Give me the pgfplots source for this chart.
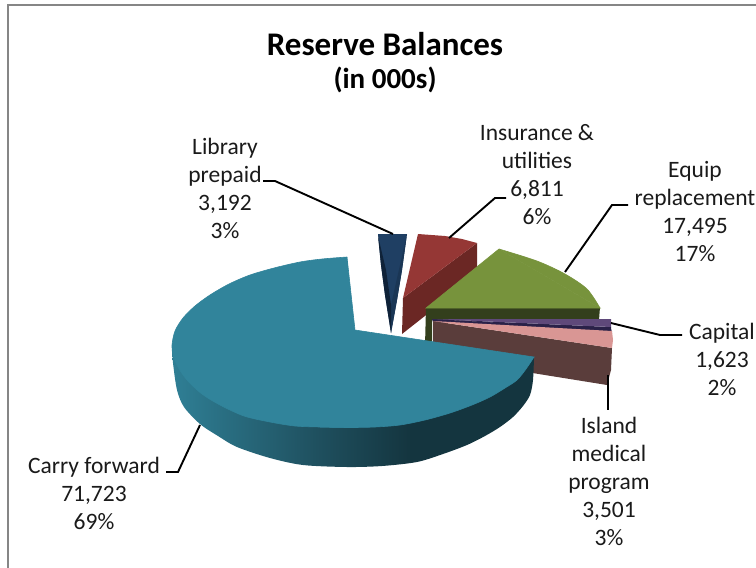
\documentclass[border=0pt]{standalone}
\usepackage{fontspec}
\setmainfont{Carlito}
\usepackage{pgfplots}
\pgfplotsset{compat=1.18}
\definecolor{frameGrey}{HTML}{868686}
\definecolor{tealTop}{HTML}{31849B}
\definecolor{tealA}{HTML}{2F7F95}
\definecolor{tealB}{HTML}{1F505F}
\definecolor{tealC}{HTML}{14353F}
\definecolor{blueTop}{HTML}{1F3F63}
\definecolor{blueRight}{HTML}{1A3655}
\definecolor{blueLeft}{HTML}{0F2238}
\definecolor{redTop}{HTML}{953735}
\definecolor{redSide}{HTML}{6B2724}
\definecolor{greenTop}{HTML}{77933C}
\definecolor{greenSide}{HTML}{333F1C}
\definecolor{purpleTop}{HTML}{5F497A}
\definecolor{purpleSide}{HTML}{2A2148}
\definecolor{pinkTop}{HTML}{D99694}
\definecolor{brownSide}{HTML}{5A3D3B}
\definecolor{textGrey}{HTML}{1A1A1A}
\pgfdeclarehorizontalshading{carrySide}{100bp}{
  color(0bp)=(tealA); color(25bp)=(tealA); color(45bp)=(tealB);
  color(58bp)=(tealC); color(75bp)=(tealC); color(100bp)=(tealC)}
\tikzset{
  lead/.style={black, line width=1.9pt, line join=miter},
  lbl/.style={align=center, text=textGrey, font=\fontsize{23.5}{28}\selectfont},
  ttl/.style={text=black, font=\bfseries\fontsize{33}{36}\selectfont},
  face/.style={fill=#1, draw=#1, line width=0.6pt},
}
\begin{document}
\begin{tikzpicture}
\useasboundingbox (0,0) rectangle (756pt,568pt);
\begin{axis}[
  at={(0,0)}, anchor=south west,
  scale only axis, width=756pt, height=568pt,
  xmin=0, xmax=756, ymin=0, ymax=568, y dir=reverse,
  hide axis, clip=false,
  every axis plot/.append style={mark=none},
]
% chart frame
\addplot[frameGrey, line width=2pt] coordinates {(8,568)(8,5)(756,5)};

% Library prepaid wedge
\addplot[fill=blueTop, draw=none] coordinates {(378,234)(392,234)(407,234)(402,270)(397,300)(391,333)(385,295)(381,265)} -- cycle;
\addplot[fill=blueRight, draw=none] coordinates {(407,234)(391,305)(391,333)(397,300)(402,270)} -- cycle;
\addplot[fill=blueLeft, draw=none] coordinates {(378,236)(381,265)(385,295)(391,333)(391,305)(386,270)} -- cycle;

% Insurance and utilities wedge
\addplot[fill=redSide, draw=none] coordinates {(477,243)(403,298)(402,334)(477,275)} -- cycle;
\addplot[fill=redTop, draw=none] coordinates {(418,234)(445,236)(462,239)(477,243)(403,298)} -- cycle;

% Equipment replacement wedge
\addplot[fill=greenSide, draw=none] coordinates {(426,307)(600,307)(599,320)(432,320)(432,346)(425,346)} -- cycle;
\addplot[face=greenTop] coordinates {(499,249)(600,308)(426,308)} -- cycle;
\addplot[face=greenTop, smooth] coordinates {(499,249)(537,261)(565,274)(587,289)(600,308)};

% Island medical program wedge
\addplot[fill=purpleSide, draw=none] coordinates {(432,319)(611,329)(612,332)(433,322)} -- cycle;
\addplot[fill=brownSide, draw=none] coordinates {(433,321)(612,348)(611,370)(607,385)(520,371)(433,357)} -- cycle;
\addplot[fill=pinkTop, draw=none] coordinates {(433,321)(612,331)(613,340)(612,348)} -- cycle;

% Capital wedge
\addplot[fill=purpleSide, draw=none] coordinates {(432,319)(611,327)(611,330)} -- cycle;
\addplot[fill=purpleTop, draw=none] coordinates {(432,319)(611,319)(611,327)} -- cycle;

% Carry forward wedge: side wall, then the top face in three pieces
\addplot[shade, shading=carrySide, draw=none, smooth] coordinates {(172,347)(173,363)(177,390)(184,407)(200,424)(218,436)(237,447)(270,458)(303,465)(347,467)(382,466)(417,462)(443,454)(467,445)(485,436)(500,427)(513,417)(523,406)(530,395)(533,380)(534,357)};
\addplot[face=tealTop] coordinates {(355,330)(347,257)(348,427)(534,357)} -- cycle;
\addplot[face=tealTop, smooth] coordinates {(347,257)(322,259)(300,262)(274,268)(250,275)(229,284)(210,295)(195,306)(183,318)(175,331)(172,345)(173,355)(178,367)(187,380)(202,394)(220,405)(244,416)(270,422)(295,426)(320,427)(350,427.5)};
\addplot[face=tealTop, smooth] coordinates {(320,427)(350,427.5)(375,427)(400,425)(425,420)(450,413)(472,405)(490,397)(505,388)(517,380)(526,369)(534,357)};

% leader lines
\addplot[lead] coordinates {(263,181)(275,181)(393,234)};
\addplot[lead] coordinates {(449,238)(495,198)(506,198)};
\addplot[lead] coordinates {(565,272)(612,205)(628,205)};
\addplot[lead] coordinates {(611,323)(660,335)(682,335)};
\addplot[lead] coordinates {(608,375)(608,410)};
\addplot[lead] coordinates {(200,425)(178,472)(166,472)};

% title and slice labels
\node[ttl] at (axis cs:385,44) {Reserve Balances};
\node[ttl, font=\bfseries\fontsize{29}{36}\selectfont] at (axis cs:385,80) {(in 000s)};
\node[lbl] at (axis cs:225,188) {Library\\prepaid\\3,192\\3\%};
\node[lbl] at (axis cs:537,175) {Insurance \&\\utilities\\6,811\\6\%};
\node[lbl] at (axis cs:695,212) {Equip\\replacement\\17,495\\17\%};
\node[lbl] at (axis cs:722,359) {Capital\\1,623\\2\%};
\node[lbl] at (axis cs:609,481) {Island\\medical\\program\\3,501\\3\%};
\node[lbl] at (axis cs:94,493) {Carry forward\\71,723\\69\%};
\end{axis}
\end{tikzpicture}
\end{document}
